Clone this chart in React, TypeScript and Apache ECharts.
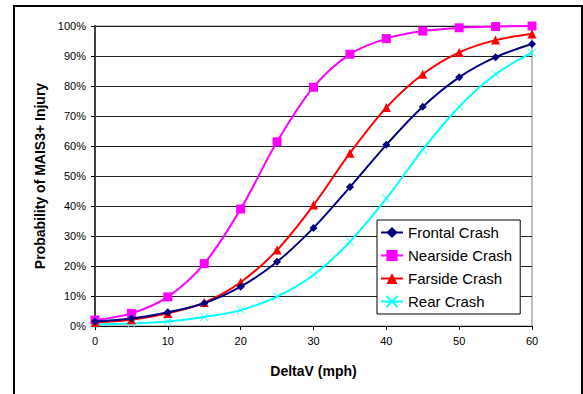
import React, { useEffect, useRef } from "react";
import * as echarts from "echarts";

const deltaV = [0, 5, 10, 15, 20, 25, 30, 35, 40, 45, 50, 55, 60];
const frontal = [1.5, 2.5, 4.6, 7.6, 13.1, 21.4, 32.7, 46.3, 60.4, 73.1, 82.9, 89.6, 94.0];
const nearside = [2.0, 4.2, 9.7, 20.8, 39.0, 61.4, 79.6, 90.6, 95.8, 98.3, 99.4, 99.8, 100.0];
const farside = [1.2, 2.1, 4.2, 7.8, 14.6, 25.3, 40.3, 57.6, 72.8, 83.9, 91.2, 95.3, 97.3];
const rear = [0.5, 0.8, 1.5, 3.0, 5.3, 9.8, 17.0, 28.1, 42.5, 58.8, 73.1, 83.9, 91.1];
const seriesNames = ["Frontal Crash", "Nearside Crash", "Farside Crash", "Rear Crash"];

const pairs = (ys: number[]) => deltaV.map((x, i) => [x, ys[i]]);

export default function App() {
  const ref = useRef<HTMLDivElement>(null);
  useEffect(() => {
    const chart = echarts.init(ref.current!, null, { renderer: "svg" });
    const font = "'Liberation Sans', Arial, sans-serif";
    chart.setOption({
      animation: false,
      backgroundColor: "#fff",
      textStyle: { fontFamily: font },
      grid: { left: 95, top: 26, right: 51, bottom: 68, show: true, borderColor: "#808080", borderWidth: 1 },
      xAxis: {
        type: "value",
        min: 0,
        max: 60,
        interval: 10,
        name: "DeltaV (mph)",
        nameLocation: "middle",
        nameGap: 38,
        nameTextStyle: { fontWeight: "bold", fontSize: 14, color: "#000", fontFamily: font },
        axisLine: { show: true, lineStyle: { color: "#000", width: 1 } },
        axisTick: { show: true, length: 4, lineStyle: { color: "#000" } },
        axisLabel: { fontSize: 11, color: "#000", margin: 9, fontFamily: font },
        splitLine: { show: false },
      },
      yAxis: {
        type: "value",
        min: 0,
        max: 100,
        interval: 10,
        name: "Probability of MAIS3+ Injury",
        nameLocation: "middle",
        nameGap: 45,
        nameTextStyle: { fontWeight: "bold", fontSize: 14, color: "#000", fontFamily: font },
        axisLine: { show: true, lineStyle: { color: "#404040", width: 2 } },
        axisTick: { show: true, length: 4, lineStyle: { color: "#000" } },
        axisLabel: { fontSize: 11, color: "#000", margin: 9, formatter: "{value}%", fontFamily: font },
        splitLine: { show: true, lineStyle: { color: "#202020", width: 1 } },
      },
      legend: {
        orient: "vertical",
        left: 377,
        top: 220,
        backgroundColor: "#fff",
        borderColor: "#000",
        borderWidth: 1,
        borderRadius: 0,
        padding: [5, 8, 5, 3],
        itemWidth: 22,
        itemHeight: 14,
        itemGap: 8,
        textStyle: { fontSize: 15, color: "#000", fontFamily: font },
        data: seriesNames,
      },
      graphic: [
        {
          type: "rect",
          shape: { x: 14, y: 6, width: 568, height: 400 },
          style: { fill: "none", stroke: "#000", lineWidth: 2 },
          silent: true,
          z: 100,
        },
      ],
      series: [
        {
          name: seriesNames[0],
          type: "line",
          smooth: 0.35,
          data: pairs(frontal),
          symbol: "diamond",
          symbolSize: 8,
          lineStyle: { color: "#000080", width: 2 },
          itemStyle: { color: "#000080", borderWidth: 0 },
          z: 4,
        },
        {
          name: seriesNames[1],
          type: "line",
          smooth: 0.35,
          data: pairs(nearside),
          symbol: "rect",
          symbolSize: 9,
          lineStyle: { color: "#FF00FF", width: 2 },
          itemStyle: { color: "#FF00FF", borderWidth: 0 },
          z: 2,
        },
        {
          name: seriesNames[2],
          type: "line",
          smooth: 0.35,
          data: pairs(farside),
          symbol: "triangle",
          symbolSize: 9,
          lineStyle: { color: "#FF0000", width: 2 },
          itemStyle: { color: "#FF0000", borderWidth: 0 },
          z: 3,
        },
        {
          name: seriesNames[3],
          type: "line",
          smooth: 0.35,
          data: pairs(rear),
          symbol: "path://M0,0L10,10M10,0L0,10",
          symbolSize: 8,
          lineStyle: { color: "#00FFFF", width: 2 },
          itemStyle: { color: "#00FFFF", borderColor: "#00FFFF", borderWidth: 1 },
          z: 1,
        },
      ],
    });
    return () => chart.dispose();
  }, []);
  return (
    <div
      ref={ref}
      style={{ position: "fixed", left: 0, top: 0, width: 583, height: 394 }}
    />
  );
}
